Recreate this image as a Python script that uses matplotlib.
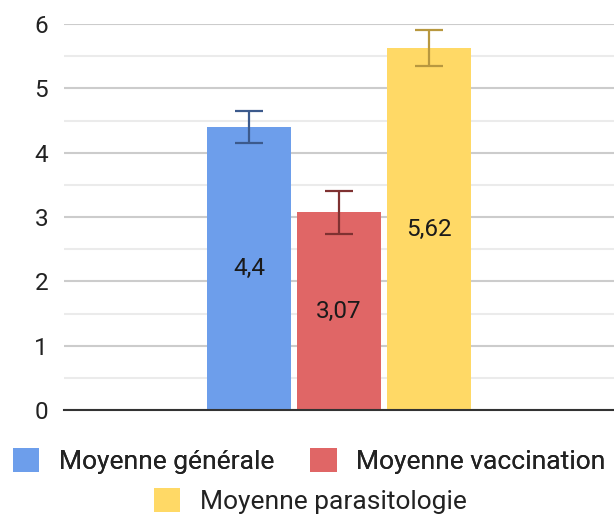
import matplotlib
matplotlib.use("Agg")
import matplotlib.pyplot as plt
from matplotlib.ticker import MultipleLocator

plt.rcParams['font.family'] = ['Roboto', 'DejaVu Sans']

series = ["Moyenne générale", "Moyenne vaccination", "Moyenne parasitologie"]
values = [4.4, 3.07, 5.62]
errors = [0.25, 0.33, 0.28]
labels = ["4,4", "3,07", "5,62"]
colors = ["#6d9eeb", "#e06666", "#ffd966"]
err_colors = ["#3c5a8c", "#7f3131", "#b8983f"]

fig = plt.figure(figsize=(6.14, 5.15), dpi=100)
ax = fig.add_axes([64/614, 1-410/515, 550/614, (410-24)/515])

offsets = [-1, 0, 1]
width = 84/90
bars = []
for off, v, e, lab, c, ec, name in zip(offsets, values, errors, labels, colors, err_colors, series):
    b = ax.bar(off, v, width=width, color=c, label=name, zorder=3)
    bars.append(b)
    ax.errorbar(off, v, yerr=e, ecolor=ec, elinewidth=1.6, capsize=10, capthick=1.6,
                fmt='none', zorder=4, clip_on=False)
    ax.bar_label(b, labels=[lab], label_type='center', fontsize=17.5, color='#1a1a1a')

ax.set_xlim(-3.06, 3.06)
ax.set_ylim(0, 6)
ax.yaxis.set_major_locator(MultipleLocator(1))
ax.yaxis.set_minor_locator(MultipleLocator(0.5))
ax.grid(axis='y', which='major', color='#cccccc', linewidth=1.5, zorder=0)
ax.grid(axis='y', which='minor', color='#ebebeb', linewidth=1.5, zorder=0)
ax.set_xticks([])
for s in ['top', 'right', 'left']:
    ax.spines[s].set_visible(False)
ax.spines['bottom'].set_color('#333333')
ax.spines['bottom'].set_linewidth(1.5)
ax.spines['bottom'].set_zorder(5)
ax.tick_params(axis='y', which='both', length=0, pad=11.5, labelsize=17.5, labelcolor='#222222')

common = dict(loc='center', frameon=False, fontsize=19, handlelength=1.0, handleheight=1.0,
              handletextpad=0.74, labelcolor='#222222', borderpad=0, borderaxespad=0)
leg1 = fig.legend(handles=[bars[0], bars[1]], labels=series[:2], ncol=2,
                  bbox_to_anchor=(309/614, 1-461/515), columnspacing=1.37, **common)
fig.add_artist(leg1)
leg2 = fig.legend(handles=[bars[2]], labels=series[2:], ncol=1,
                  bbox_to_anchor=(310/614, 1-501/515), **common)

fig.savefig("out.png", dpi=100)
